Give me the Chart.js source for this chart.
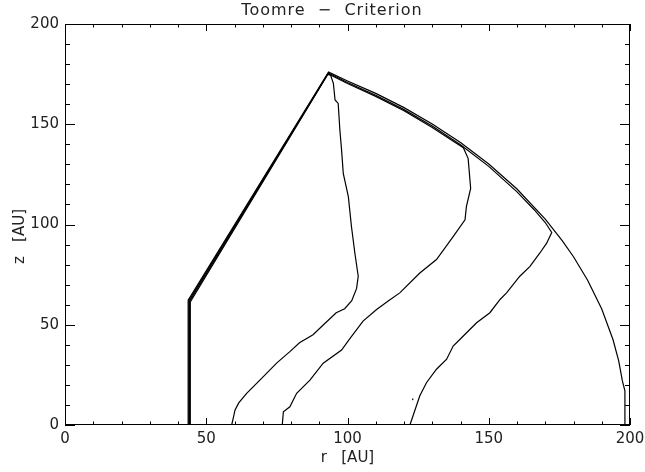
<!DOCTYPE html>
<html>
<head>
<meta charset="utf-8">
<script src="https://cdn.jsdelivr.net/npm/chart.js@4"></script>
<style>
  html, body { margin: 0; padding: 0; background: #fff; }
  #wrap { width: 645px; height: 472px; }
</style>
</head>
<body>
<div id="wrap"><canvas id="toomre"></canvas></div>
<script>
// contour lines of the Toomre criterion (r, z in AU)
const innerR = [44.35, 44.35, 93.0, 94.0, 95.0, 95.6, 96.7, 97.3, 97.9, 98.5, 100.3, 101.4, 102.6, 103.8, 103.2, 101.5, 99.0, 96.0, 91.5, 87.8, 83.0, 79.6, 75.0, 70.2, 64.3, 61.5, 60.2, 59.5, 59.0];
const innerZ = [0, 61.4, 174.8, 174.5, 170.4, 162.1, 160.4, 147.1, 137.2, 125.5, 113.9, 99.0, 85.8, 74.2, 68.0, 62.0, 58.0, 56.0, 50.0, 45.0, 41.0, 36.6, 31.0, 24.1, 15.8, 11.0, 7.5, 3.0, 0];

const secondR = [44.1, 44.1, 93.1, 100, 110, 120, 130, 138, 141.0, 142.7, 143.6, 142.1, 141.6, 137.4, 131.5, 125.6, 118.5, 114.4, 110.3, 105.5, 100.9, 97.9, 91.4, 86.7, 82.0, 79.6, 77.3, 76.9];
const secondZ = [0, 61.7, 175.2, 170.3, 163.9, 156.7, 148.4, 141.0, 138.3, 133.0, 118.0, 109.0, 102.3, 94.0, 82.5, 75.8, 65.9, 61.8, 57.6, 51.8, 43.2, 37.4, 30.8, 22.4, 15.8, 9.1, 6.6, 0];

const thirdR = [43.85, 43.85, 93.2, 100, 110, 120, 130, 140, 150, 160, 166, 170, 172.3, 170.5, 168.1, 164.6, 161.0, 156.3, 154.0, 150.4, 145.7, 141.0, 137.4, 135.1, 131.5, 128.0, 125.6, 124.4, 122.1];
const thirdZ = [0, 62.0, 175.6, 170.8, 164.5, 157.3, 149.1, 139.8, 129.0, 116.3, 107.5, 101.0, 96.0, 90.7, 85.8, 79.1, 74.2, 65.9, 62.6, 56.0, 51.0, 44.4, 39.4, 32.8, 27.8, 21.2, 14.6, 9.6, 0];

const outerR = [43.6, 43.6, 93.3, 100, 110, 120, 130, 140, 150, 160, 170, 176, 180, 185, 190, 194, 196, 197.3, 198.2, 198.2];
const outerZ = [0, 62.3, 176.0, 171.6, 165.4, 158.3, 150.1, 140.9, 130.2, 117.7, 102.7, 92.0, 83.9, 72.2, 57.8, 42.5, 32.0, 22.0, 17.0, 0];

const specR = [123.0, 123.2];
const specZ = [12.4, 13.2];

const xTicks = [0, 50, 100, 150, 200];
const yTicks = [0, 50, 100, 150, 200];
const minorTicks = [10, 20, 30, 40, 60, 70, 80, 90, 110, 120, 130, 140, 160, 170, 180, 190];

function points(rs, zs) {
    return rs.map((r, i) => ({ x: r, y: zs[i] }));
}

function contour(rs, zs) {
    return {
        data: points(rs, zs),
        showLine: true,
        borderColor: '#000',
        borderWidth: 1.2,
        pointRadius: 0,
        tension: 0
    };
}

// IDL style box: frame, inward ticks on all four sides, labels and titles
const idlBox = {
    id: 'idlBox',
    afterDraw(chart) {
        const { ctx, chartArea: a, scales: { x, y } } = chart;
        ctx.save();
        ctx.strokeStyle = '#000';
        ctx.lineWidth = 1;
        ctx.strokeRect(a.left + 0.5, a.top + 0.5, a.width - 1, a.height - 1);

        const tick = (x1, y1, x2, y2) => {
            ctx.beginPath();
            ctx.moveTo(x1, y1);
            ctx.lineTo(x2, y2);
            ctx.stroke();
        };
        xTicks.forEach(v => {
            const px = Math.round(x.getPixelForValue(v)) + 0.5;
            tick(px, a.bottom, px, a.bottom - 7);
            tick(px, a.top, px, a.top + 7);
        });
        minorTicks.forEach(v => {
            const px = Math.round(x.getPixelForValue(v)) + 0.5;
            tick(px, a.bottom, px, a.bottom - 3.5);
            tick(px, a.top, px, a.top + 3.5);
        });
        yTicks.forEach(v => {
            const py = Math.round(y.getPixelForValue(v)) + 0.5;
            tick(a.left, py, a.left + 10, py);
            tick(a.right, py, a.right - 10, py);
        });
        minorTicks.forEach(v => {
            const py = Math.round(y.getPixelForValue(v)) + 0.5;
            tick(a.left, py, a.left + 5, py);
            tick(a.right, py, a.right - 5, py);
        });

        ctx.fillStyle = '#222';
        ctx.font = '15px "DejaVu Sans"';
        ctx.textBaseline = 'middle';
        ctx.textAlign = 'center';
        xTicks.forEach(v => ctx.fillText(String(v), x.getPixelForValue(v), a.bottom + 14));
        ctx.textAlign = 'right';
        yTicks.forEach(v => ctx.fillText(String(v), a.left - 6, y.getPixelForValue(v)));

        ctx.textAlign = 'center';
        ctx.fillText('r   [AU]', (a.left + a.right) / 2, a.bottom + 33);

        ctx.font = '16px "DejaVu Sans"';
        ctx.letterSpacing = '1px';
        ctx.fillText('Toomre  \u2212  Criterion', 332, 11);
        ctx.letterSpacing = '0px';

        ctx.font = '15px "DejaVu Sans"';
        ctx.translate(20, (a.top + a.bottom) / 2 + 12);
        ctx.rotate(-Math.PI / 2);
        ctx.fillText('z   [AU]', 0, 0);
        ctx.restore();
    }
};

new Chart(document.getElementById('toomre'), {
    type: 'scatter',
    data: {
        datasets: [
            contour(innerR, innerZ),
            contour(secondR, secondZ),
            contour(thirdR, thirdZ),
            contour(outerR, outerZ),
            contour(specR, specZ)
        ]
    },
    options: {
        responsive: true,
        maintainAspectRatio: false,
        animation: false,
        layout: { padding: { left: 65, right: 15, top: 24, bottom: 47 } },
        scales: {
            x: { type: 'linear', min: 0, max: 200, display: false },
            y: { type: 'linear', min: 0, max: 200, display: false }
        },
        plugins: {
            legend: { display: false },
            tooltip: { enabled: false }
        }
    },
    plugins: [idlBox]
});
</script>
</body>
</html>
